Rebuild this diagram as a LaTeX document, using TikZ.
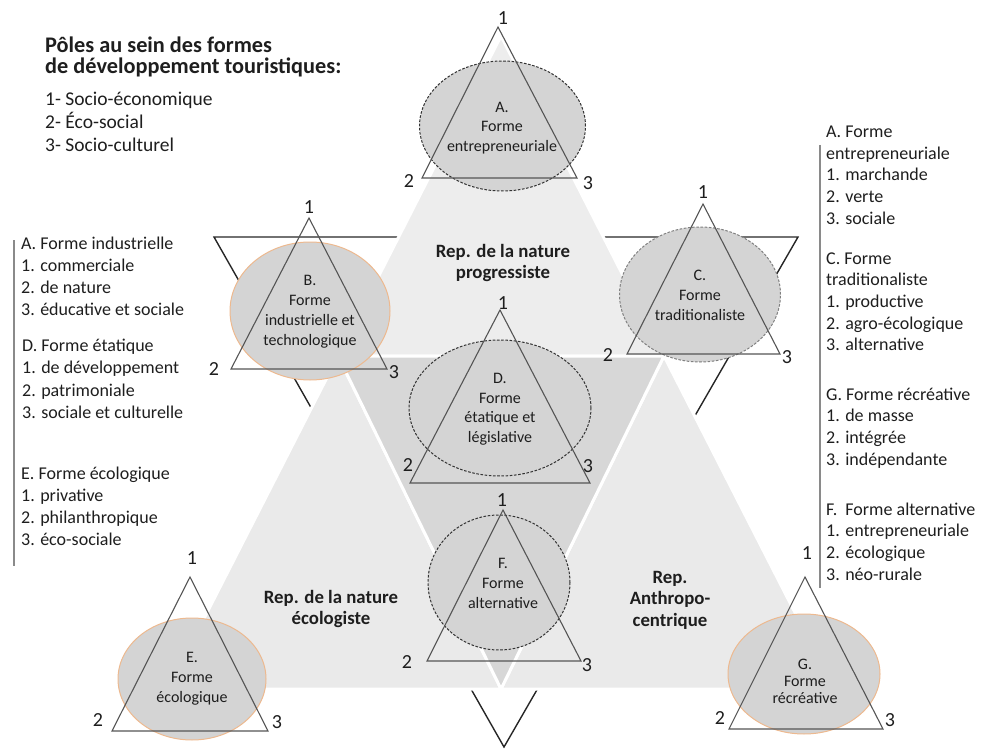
\documentclass[tikz,border=0pt]{standalone}
\usepackage{fontspec}
\setmainfont{Carlito}
\definecolor{toppiece}{HTML}{EDEDED}
\definecolor{lightpiece}{HTML}{EAEAEA}
\definecolor{midpiece}{HTML}{D7D7D7}
\definecolor{ellfill}{HTML}{D4D4D4}
\definecolor{trigray}{HTML}{555555}
\definecolor{orangeline}{HTML}{EDB98F}
\definecolor{bargray}{HTML}{8A8A8A}
\definecolor{darkdash}{HTML}{333333}
\definecolor{graydash}{HTML}{808080}
\definecolor{txt}{HTML}{1E1E1E}
\begin{document}
\begin{tikzpicture}[x=1pt,y=-1pt,
  piece/.style={draw=white, line width=3pt, line join=round},
  bigtri/.style={draw=black!85, line width=1.4pt, line join=miter},
  tri/.style={draw=trigray, line width=1.1pt, line join=miter},
  dashell/.style={fill=ellfill, draw=#1, dash pattern=on 2.6pt off 1.6pt, line width=1pt},
  orell/.style={fill=ellfill, draw=orangeline, line width=1pt},
  num/.style={font=\fontsize{20}{24}\selectfont, inner sep=0pt, text=txt},
  etxt/.style={font=\fontsize{16}{19.5}\selectfont, align=center, inner sep=0pt, text=txt},
  rep/.style={font=\bfseries\fontsize{18.8}{21.5}\selectfont, align=center, inner sep=0pt, text=txt},
  lst/.style={font=\fontsize{18}{22}\selectfont, anchor=base west, inner sep=0pt, text=txt},
  ttl/.style={font=\bfseries\fontsize{22.3}{20}\selectfont, anchor=base west, inner sep=0pt, text=txt},
  bar/.style={draw=bargray, line width=2.5pt},
]
\useasboundingbox (0,0) rectangle (986,749);

% big outlined downward triangle
\coordinate (DT1) at (214,237);
\coordinate (DT2) at (798,237);
\coordinate (DT3) at (504,747);
\draw[bigtri] (DT1) -- (DT2) -- (DT3) -- cycle;

% segmented pyramid
\coordinate (P0) at (501,36);
\coordinate (ML) at (338,356);
\coordinate (MR) at (664,356);
\coordinate (BL) at (168,689);
\coordinate (BM) at (501,689);
\coordinate (BR) at (834,689);
\filldraw[piece, fill=toppiece] (P0) -- (ML) -- (MR) -- cycle;
\filldraw[piece, fill=lightpiece] (ML) -- (BL) -- (BM) -- cycle;
\filldraw[piece, fill=lightpiece] (MR) -- (BM) -- (BR) -- cycle;
\filldraw[piece, fill=midpiece] (ML) -- (MR) -- (BM) -- cycle;

% region labels
\node[rep] (repP) at (503,263) {Rep. de la nature\\progressiste};
\node[rep] (repE) at (331,609) {Rep. de la nature\\écologiste};
\node[rep] (repA) at (670,600) {Rep.\\Anthropo-\\centrique};

% ellipses
\path[dashell=darkdash] (502.5,126) ellipse [x radius=83pt, y radius=65pt];
\path[orell] (310,311) ellipse [x radius=80pt, y radius=69pt];
\path[dashell=graydash] (700,294.5) ellipse [x radius=80.5pt, y radius=67.5pt];
\path[dashell=darkdash] (500,408) ellipse [x radius=91pt, y radius=68pt];
\path[orell] (192,679) ellipse [x radius=74pt, y radius=61pt];
\path[dashell=darkdash] (499,582.5) ellipse [x radius=71pt, y radius=67.5pt];
\path[orell] (804,674) ellipse [x radius=76pt, y radius=60pt];

% small triangles
\foreach \n/\ax/\ay/\lx/\rx/\by in {A/498/27/422/577/178, B/309/218/231/387/369,
  C/703/204/627/780/354, D/500/310/410/590/483, E/190/577/112/268/731,
  F/503/510/427/581/661, G/805/577/729/883/729} {
  \coordinate (\n-top) at (\ax,\ay);
  \coordinate (\n-l) at (\lx,\by);
  \coordinate (\n-r) at (\rx,\by);
  \draw[tri] (\n-top) -- (\n-l) -- (\n-r) -- cycle;
}

% texts in ellipses
\node[etxt] (tA) at (502,128) {A.\\Forme\\entrepreneuriale};
\node[etxt, font=\fontsize{16}{20}\selectfont] (tB) at (310,312) {B.\\Forme\\industrielle et\\technologique};
\node[etxt, font=\fontsize{16}{20}\selectfont] (tC) at (700,295) {C.\\Forme\\traditionaliste};
\node[etxt] (tD) at (500,409) {D.\\Forme\\étatique et\\législative};
\node[etxt, font=\fontsize{16}{20}\selectfont] (tE) at (192,679) {E.\\Forme\\écologique};
\node[etxt, font=\fontsize{16}{20}\selectfont] (tF) at (503,583) {F.\\Forme\\alternative};
\node[etxt, font=\fontsize{16}{17}\selectfont] (tG) at (805,681) {G.\\Forme\\récréative};

% vertex numbers
\foreach \n/\xa/\ya/\xb/\yb/\xc/\yc in {A/503/18/409/181/588/183, B/309/207/214/369/394/372,
  C/703/192/608/355/787/357, D/503/303/408/465/588/466, E/192/558/98/720/277/722,
  F/502/500/407/662/587/665, G/807/553/720/718/890/720} {
  \node[num] (\n-n1) at (\xa,\ya) {1};
  \node[num] (\n-n2) at (\xb,\yb) {2};
  \node[num] (\n-n3) at (\xc,\yc) {3};
}

% title
\node[ttl] (title1) at (45,53) {Pôles au sein des formes};
\node[ttl] (title2) at (45,74) {de développement touristiques:};
\node[lst, font=\fontsize{19.5}{24}\selectfont] (pole1) at (45,106) {1- Socio-économique};
\node[lst, font=\fontsize{19.5}{24}\selectfont] (pole2) at (45,129) {2- Éco-social};
\node[lst, font=\fontsize{19.5}{24}\selectfont] (pole3) at (45,152) {3- Socio-culturel};

% left list
\coordinate (LB1) at (14,240);
\coordinate (LB2) at (14,566);
\draw[bar] (LB1) -- (LB2);
\foreach \t [count=\i] in {A. Forme industrielle, 1. commerciale, 2. de nature, 3. éducative et sociale}
  \node[lst] (la\i) at (21,{249+22.3*(\i-1)}) {\t};
\foreach \t [count=\i] in {D. Forme étatique, 1. de développement, 2. patrimoniale, 3. sociale et culturelle}
  \node[lst] (ld\i) at (22,{351+22.6*(\i-1)}) {\t};
\foreach \t [count=\i] in {E. Forme écologique, 1. privative, 2. philanthropique, 3. éco-sociale}
  \node[lst] (le\i) at (21,{479+22*(\i-1)}) {\t};

% right list
\coordinate (RB1) at (820,145);
\coordinate (RB2) at (820,588);
\draw[bar] (RB1) -- (RB2);
\foreach \t [count=\i] in {A. Forme, entrepreneuriale, 1. marchande, 2. verte, 3. sociale}
  \node[lst] (ra\i) at (826,{138+21.5*(\i-1)}) {\t};
\foreach \t [count=\i] in {C. Forme, traditionaliste, 1. productive, 2. agro-écologique, 3. alternative}
  \node[lst] (rc\i) at (826,{264+21.7*(\i-1)}) {\t};
\foreach \t [count=\i] in {G. Forme récréative, 1. de masse, 2. intégrée, 3. indépendante}
  \node[lst] (rg\i) at (826,{400+21.7*(\i-1)}) {\t};
\foreach \t [count=\i] in {F.\ \ Forme alternative, 1. entrepreneuriale, 2. écologique, 3. néo-rurale}
  \node[lst] (rf\i) at (826,{515+21.7*(\i-1)}) {\t};
\end{tikzpicture}
\end{document}
